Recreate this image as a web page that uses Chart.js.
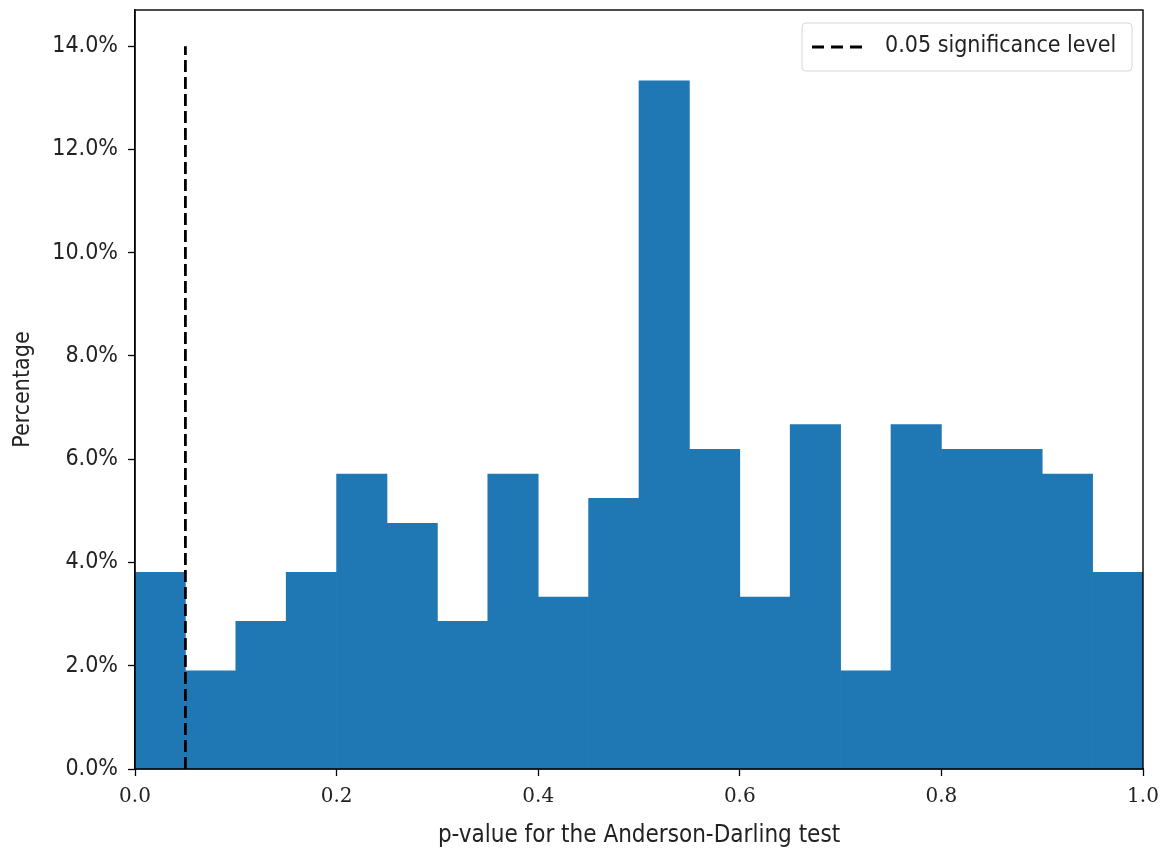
<!DOCTYPE html>
<html lang="en">
<head>
    <meta charset="UTF-8">
    <title>Anderson-Darling p-values</title>
    <script src="https://cdn.jsdelivr.net/npm/chart.js"></script>
    <style>
        body {
            margin: 0;
            padding: 0;
            background: #fff;
        }

        .chart-box {
            width: 1165px;
            height: 850px;
        }
    </style>
</head>
<body>
    <div class="chart-box">
        <canvas id="hist"></canvas>
    </div>

    <script>
        // histogram bins (left edges), width 0.05
        const binStarts = [0.00, 0.05, 0.10, 0.15, 0.20, 0.25, 0.30, 0.35, 0.40, 0.45,
                           0.50, 0.55, 0.60, 0.65, 0.70, 0.75, 0.80, 0.85, 0.90, 0.95];
        const binWidth = 0.05;
        const percentages = [3.81, 1.90, 2.86, 3.81, 5.71, 4.76, 2.86, 5.71, 3.33, 5.24,
                             13.33, 6.19, 3.33, 6.67, 1.90, 6.67, 6.19, 6.19, 5.71, 3.81];
        const significance = 0.05;
        const lineTop = 14;
        const legendLabel = '0.05 significance level';
        const xTitle = 'p-value for the Anderson-Darling test';
        const yTitle = 'Percentage';

        const sansFont = "'DejaVu Sans Condensed', 'DejaVu Sans', sans-serif";
        const serifFont = "'DejaVu Serif', serif";

        const histData = binStarts.map((s, i) => ({ x: s + binWidth / 2, y: percentages[i] }));

        // frame around the plot + legend box in upper right
        const framePlugin = {
            id: 'frame',
            afterDraw(chart) {
                const { ctx, chartArea: a } = chart;
                ctx.save();
                ctx.strokeStyle = '#000';
                ctx.lineWidth = 1.4;
                ctx.strokeRect(a.left, a.top, a.right - a.left, a.bottom - a.top);

                // legend
                const bx = a.right - 341, by = a.top + 13, bw = 330, bh = 48;
                ctx.fillStyle = 'rgba(255,255,255,0.8)';
                ctx.strokeStyle = '#d6d6d6';
                ctx.lineWidth = 1;
                ctx.beginPath();
                ctx.roundRect(bx, by, bw, bh, 4);
                ctx.fill();
                ctx.stroke();

                ctx.strokeStyle = '#000';
                ctx.lineWidth = 2.8;
                ctx.setLineDash([12, 7]);
                ctx.beginPath();
                ctx.moveTo(bx + 10, by + bh / 2);
                ctx.lineTo(bx + 63, by + bh / 2);
                ctx.stroke();
                ctx.setLineDash([]);

                ctx.fillStyle = '#222';
                ctx.font = "23px " + sansFont;
                ctx.textBaseline = 'middle';
                ctx.fillText(legendLabel, bx + 83, by + bh / 2 - 1);
                ctx.restore();
            }
        };

        new Chart(document.getElementById('hist'), {
            type: 'bar',
            data: {
                datasets: [
                    {
                        label: 'Histogram',
                        data: histData,
                        backgroundColor: '#1f77b4',
                        borderWidth: 0,
                        barPercentage: 1,
                        categoryPercentage: 1,
                        order: 2
                    },
                    {
                        type: 'line',
                        label: legendLabel,
                        data: [{ x: significance, y: 0 }, { x: significance, y: lineTop }],
                        borderColor: '#000',
                        borderWidth: 2.8,
                        borderDash: [12, 5],
                        pointRadius: 0,
                        fill: false,
                        order: 1
                    }
                ]
            },
            options: {
                responsive: true,
                maintainAspectRatio: false,
                animation: false,
                layout: {
                    padding: { top: 10, right: 22, left: 0, bottom: 0 }
                },
                plugins: {
                    legend: { display: false },
                    tooltip: { enabled: false }
                },
                scales: {
                    x: {
                        type: 'linear',
                        min: 0,
                        max: 1,
                        offset: false,
                        afterFit: (scale) => {
                            scale.height = 81;
                            scale.paddingLeft = 0;
                            scale.paddingRight = 0;
                        },
                        grid: {
                            offset: false,
                            drawOnChartArea: false,
                            drawTicks: true,
                            tickLength: 7,
                            tickWidth: 1.3,
                            tickColor: '#000'
                        },
                        border: { color: '#000', width: 1.4 },
                        ticks: {
                            stepSize: 0.2,
                            color: '#222',
                            padding: 9,
                            font: { family: serifFont, size: 20 },
                            callback: (v) => v.toFixed(1)
                        },
                        title: {
                            display: true,
                            text: xTitle,
                            color: '#222',
                            font: { family: sansFont, size: 24 },
                            padding: { top: 0, bottom: 0 }
                        }
                    },
                    y: {
                        min: 0,
                        max: 14.7,
                        afterFit: (scale) => {
                            scale.width = 135;
                            scale.paddingTop = 0;
                            scale.paddingBottom = 0;
                        },
                        grid: {
                            drawOnChartArea: false,
                            drawTicks: true,
                            tickLength: 7,
                            tickWidth: 1.3,
                            tickColor: '#000'
                        },
                        border: { color: '#000', width: 1.4 },
                        ticks: {
                            stepSize: 2,
                            includeBounds: false,
                            color: '#222',
                            padding: 10,
                            font: { family: sansFont, size: 23 },
                            callback: (v) => v.toFixed(1) + '%'
                        },
                        title: {
                            display: true,
                            text: yTitle,
                            color: '#222',
                            font: { family: sansFont, size: 23 },
                            padding: { top: 9, bottom: 4 }
                        }
                    }
                }
            },
            plugins: [framePlugin]
        });
    </script>
</body>
</html>
